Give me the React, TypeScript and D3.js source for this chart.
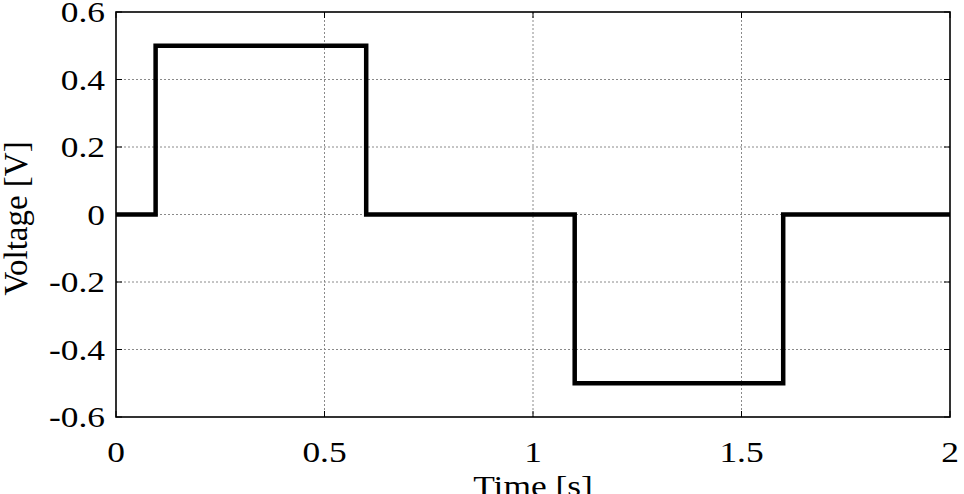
import React from "react";
import * as d3 from "d3";

const timePoints = [0, 0.095, 0.6, 1.1, 1.6, 2];
const voltageValues = [0, 0.5, 0, -0.5, 0, 0];
const xTicks = [0, 0.5, 1, 1.5, 2];
const yTicks = [-0.6, -0.4, -0.2, 0, 0.2, 0.4, 0.6];
const xLabel = "Time [s]";
const yLabel = "Voltage [V]";

const W = 964;
const H = 494;
const M = { left: 116, right: 950, top: 12, bottom: 417 };
const FONT = "Liberation Serif, Times New Roman, serif";
const FS = 30;
const SX = 1.18;

export default function App() {
  const x = d3.scaleLinear().domain([0, 2]).range([M.left, M.right]);
  const y = d3.scaleLinear().domain([-0.6, 0.6]).range([M.bottom, M.top]);
  const data = timePoints.map((t, i) => [t, voltageValues[i]] as [number, number]);
  const line = d3
    .line<[number, number]>()
    .x((d) => x(d[0]))
    .y((d) => y(d[1]))
    .curve(d3.curveStepAfter);
  const tl = 6;
  const fmt = (v: number) => (Math.abs(v) < 1e-9 ? "0" : String(+v.toFixed(1)));
  const ts = { fontFamily: FONT };

  return (
    <svg
      width={W}
      height={H}
      style={{ position: "absolute", left: 0, top: 0, background: "#fff" }}
    >
      <rect x={0} y={0} width={W} height={H} fill="#fff" />
      {xTicks.slice(1, -1).map((t) => (
        <line
          key={"gx" + t}
          x1={x(t)}
          x2={x(t)}
          y1={M.top}
          y2={M.bottom}
          stroke="#8a8a8a"
          strokeWidth={1}
          strokeDasharray="2,2"
        />
      ))}
      {yTicks.slice(1, -1).map((t) => (
        <line
          key={"gy" + t}
          x1={M.left}
          x2={M.right}
          y1={y(t)}
          y2={y(t)}
          stroke="#8a8a8a"
          strokeWidth={1}
          strokeDasharray="2,2"
        />
      ))}
      {xTicks.map((t) => (
        <g key={"tx" + t} stroke="#000" strokeWidth={1}>
          <line x1={x(t)} x2={x(t)} y1={M.bottom} y2={M.bottom - tl} />
          <line x1={x(t)} x2={x(t)} y1={M.top} y2={M.top + tl} />
        </g>
      ))}
      {yTicks.map((t) => (
        <g key={"ty" + t} stroke="#000" strokeWidth={1}>
          <line x1={M.left} x2={M.left + tl} y1={y(t)} y2={y(t)} />
          <line x1={M.right} x2={M.right - tl} y1={y(t)} y2={y(t)} />
        </g>
      ))}
      <path
        d={line(data) || ""}
        fill="none"
        stroke="#000"
        strokeWidth={4.5}
        strokeLinejoin="miter"
      />
      <rect
        x={M.left}
        y={M.top}
        width={M.right - M.left}
        height={M.bottom - M.top}
        fill="none"
        stroke="#000"
        strokeWidth={1.6}
      />
      {xTicks.map((t) => (
        <text
          key={"lx" + t}
          transform={`translate(${x(t)},462) scale(${SX},1)`}
          textAnchor="middle"
          fontSize={FS}
          fill="#000"
          style={ts}
        >
          {fmt(t)}
        </text>
      ))}
      {yTicks.map((t) => (
        <text
          key={"ly" + t}
          transform={`translate(105,${y(t) + 10}) scale(${SX},1)`}
          textAnchor="end"
          fontSize={FS}
          fill="#000"
          style={ts}
        >
          {fmt(t)}
        </text>
      ))}
      <text
        transform={`translate(${(M.left + M.right) / 2},496) scale(${SX},1)`}
        textAnchor="middle"
        fontSize={FS}
        fill="#000"
        style={ts}
      >
        {xLabel}
      </text>
      <text
        transform={`translate(27,${(M.top + M.bottom) / 2 + 4}) scale(1.05,1) rotate(-90)`}
        textAnchor="middle"
        fontSize={33}
        fill="#000"
        style={ts}
      >
        {yLabel}
      </text>
    </svg>
  );
}
